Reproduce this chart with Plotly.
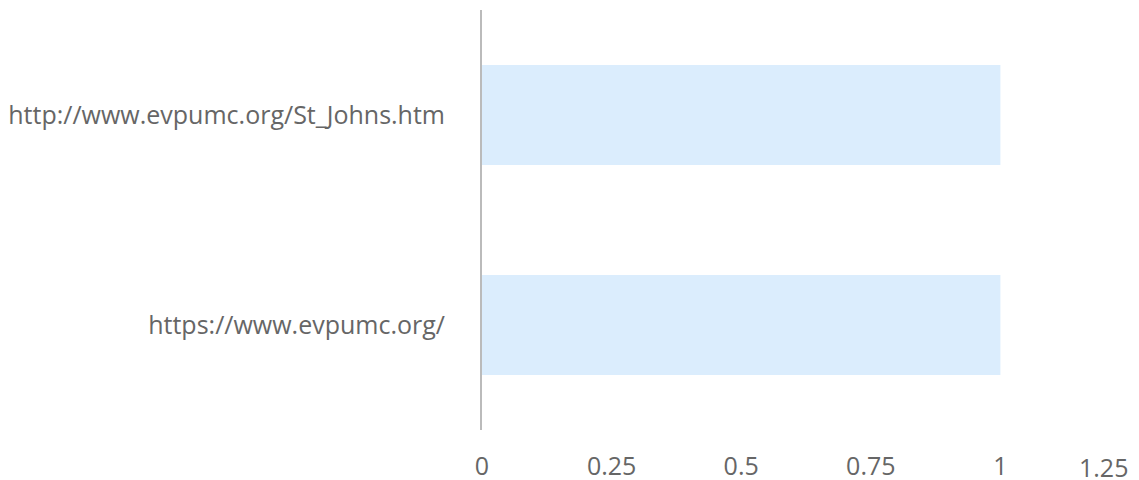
import plotly.graph_objects as go

categories = ["https://www.evpumc.org/", "http://www.evpumc.org/St_Johns.htm"]
values = [1, 1]
tick_vals = [0, 0.25, 0.5, 0.75, 1, 1.25]
tick_text = ["0", "0.25", "0.5", "0.75", "1", ""]

FONT = dict(family="Open Sans", size=25, color="#666666")

fig = go.Figure(go.Bar(
    y=categories, x=values, orientation="h",
    marker=dict(color="#dbedfd", line=dict(width=0)),
    hoverinfo="skip",
))

fig.update_layout(
    width=1139, height=480,
    margin=dict(l=482, r=9, t=10, b=50, autoexpand=False),
    paper_bgcolor="white", plot_bgcolor="white",
    font=FONT,
    bargap=0.524,
    showlegend=False,
    xaxis=dict(range=[0, 1.25], tickvals=tick_vals, ticktext=tick_text,
               showgrid=False, zeroline=False, showline=False,
               ticks="", ticklabelstandoff=19, fixedrange=True),
    yaxis=dict(showgrid=False, zeroline=False, showline=True,
               linecolor="#bbbbbb", linewidth=2, ticks="",
               ticklabelstandoff=30, fixedrange=True),
    annotations=[dict(x=1.25, y=0, xref="x", yref="paper", text="1.25",
                      showarrow=False, xanchor="right", yanchor="top",
                      yshift=-18, font=FONT)],
)

fig.write_html(
    "out.html",
    config={"displayModeBar": False},
    post_script="document.body.style.margin='0';document.body.style.overflow='hidden';",
)
